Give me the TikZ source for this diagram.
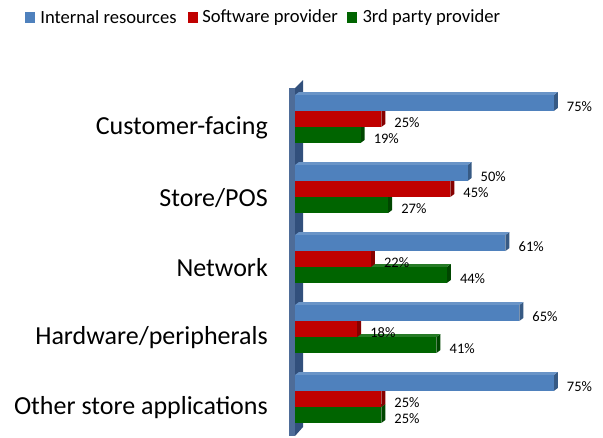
\documentclass[tikz,border=0pt]{standalone}
\usepackage{fontspec}
\setmainfont{Carlito}
\usetikzlibrary{positioning}
\definecolor{intblue}{RGB}{79,129,189}
\definecolor{swred}{RGB}{192,0,0}
\definecolor{tpgreen}{RGB}{0,100,0}
\definecolor{wallfront}{RGB}{78,108,152}
\definecolor{wallside}{RGB}{50,80,124}
\tikzset{
  cat/.style={anchor=east, inner sep=0pt, font=\fontsize{26}{31}\selectfont},
  val/.style={anchor=west, inner sep=0pt, font=\fontsize{14.5}{17}\selectfont},
  legsq/.style={minimum width=10pt, minimum height=11pt, inner sep=0pt},
  legtxt/.style={inner sep=0pt, font=\fontsize{18.6}{22}\selectfont}
}
% one 3d bar: colour, top, value, node name
\newcommand{\chartbar}[4]{%
  \pgfmathsetmacro\xe{295+3.45*#3}
  \pgfmathsetmacro\yb{#2+16}
  \fill[#1!70!black] (\xe,#2) -- (\xe+4,#2-3) -- (\xe+4,\yb-3) -- (\xe,\yb) -- cycle;
  \fill[#1!85!white] (295,#2) -- (299,#2-3) -- (\xe+4,#2-3) -- (\xe,#2) -- cycle;
  \fill[#1] (295,#2) rectangle (\xe,\yb);
  \node[val] (#4) at (\xe+13,#2+12) {#3\%};
}
\begin{document}
\begin{tikzpicture}[x=1pt,y=-1pt]
      \useasboundingbox (0,0) rectangle (603,437);
      % legend
      \node[legsq, fill=intblue] (sqint) at (30,17.5) {};
      \node[legtxt, right=5pt of sqint] (txtint) {Internal resources};
      \node[legsq, fill=swred, right=11pt of txtint] (sqsw) {};
      \node[legtxt, right=4pt of sqsw] (txtsw) {Software provider};
      \node[legsq, fill=tpgreen, right=9pt of txtsw] (sqtp) {};
      \node[legtxt, right=5pt of sqtp] (txttp) {3rd party provider};
      % axis wall
      \fill[wallside] (295,88) -- (303,80) -- (303,427) -- (295,436) -- cycle;
      \fill[wallfront] (289,88) -- (295,88) -- (295,436) -- (289,436) -- cycle;
      % bars
      \foreach \row/\name/\a/\b/\c in {0/Customer-facing/75/25/19,
                                        1/{Store/POS}/50/45/27,
                                        2/Network/61/22/44,
                                        3/Hardware\slash peripherals/65/18/41,
                                        4/Other store applications/75/25/25} {
        \pgfmathsetmacro\yt{95+70*\row}
        \chartbar{tpgreen}{\yt+32}{\c}{tp\row}
        \chartbar{swred}{\yt+16}{\b}{sw\row}
        \chartbar{intblue}{\yt}{\a}{int\row}
        \node[cat] (cat\row) at (268,\yt+33) {\name};
      }
\end{tikzpicture}
\end{document}
